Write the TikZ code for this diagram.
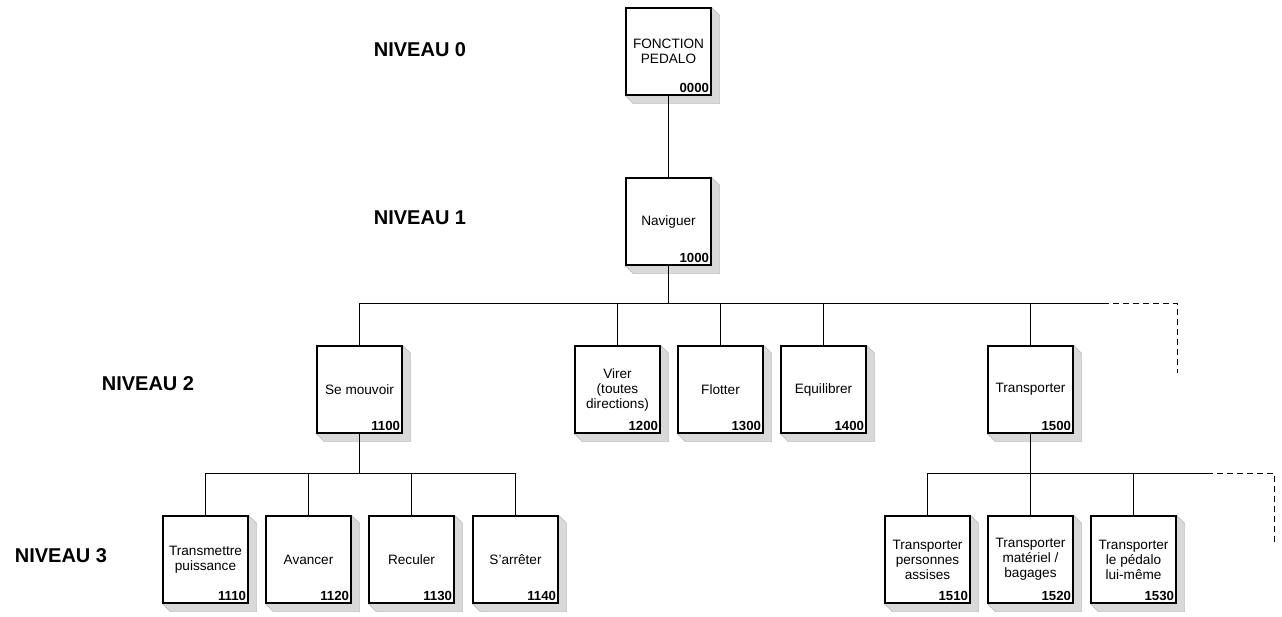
\documentclass[tikz,border=0pt]{standalone}
\usepackage{fontspec}
\setmainfont{Liberation Sans}
\usepackage{tikz}
\usetikzlibrary{backgrounds}

\begin{document}
\begin{tikzpicture}[x=1pt,y=-1pt,
    fct/.style={draw, fill=white, line width=1.4pt, minimum width=85pt, minimum height=87pt,
      align=center, inner sep=1pt, font=\fontsize{13.6}{15}\selectfont},
    code/.style={anchor=south east, inner sep=2.5pt, font=\fontsize{13.2}{14}\selectfont\bfseries},
    niveau/.style={font=\fontsize{20}{22}\selectfont\bfseries},
    shade3d/.style={fill=gray!30, draw=gray!70, line width=0.4pt},
    lien/.style={line width=1pt}]

        \useasboundingbox (0,0) rectangle (1282,616);

        % niveaux
        \node[niveau] (niv0) at (420,50)  {NIVEAU 0};
        \node[niveau] (niv1) at (420,218) {NIVEAU 1};
        \node[niveau] (niv2) at (148,384) {NIVEAU 2};
        \node[niveau] (niv3) at (61,556)  {NIVEAU 3};

        \begin{scope}[every node/.style={fct}]
          \node (n0000) at (668.5,51.5)   {FONCTION\\PEDALO};
          \node (n1000) at (668.5,221.5)  {Naviguer};
          \node (n1100) at (359.5,389.5)  {Se mouvoir};
          \node (n1200) at (617.5,389.5)  {Virer\\(toutes\\directions)};
          \node (n1300) at (720.5,389.5)  {Flotter};
          \node (n1400) at (823.5,389.5)  {Equilibrer};
          \node (n1500) at (1030.5,389.5) {Transporter};
          \node (n1110) at (205.5,559.5)  {Transmettre\\puissance};
          \node (n1120) at (308.5,559.5)  {Avancer};
          \node (n1130) at (411.5,559.5)  {Reculer};
          \node (n1140) at (515.5,559.5)  {S'arr\^eter};
          \node (n1510) at (927.5,559.5)  {Transporter\\personnes\\assises};
          \node (n1520) at (1030.5,559.5) {Transporter\\mat\'eriel /\\bagages};
          \node (n1530) at (1133.5,559.5) {Transporter\\le p\'edalo\\lui-m\^eme};
        \end{scope}

        % numeros
        \foreach \n in {0000,1000,1100,1200,1300,1400,1500,1110,1120,1130,1140,1510,1520,1530}
          \node[code] at (n\n.south east) {\n};

        % ombres
        \begin{scope}[on background layer]
          \foreach \n in {0000,1000,1100,1200,1300,1400,1500,1110,1120,1130,1140,1510,1520,1530}
            \path[shade3d] (n\n.south west) -- ++(8,8) -- ([shift={(8,8)}]n\n.south east)
              -- ([shift={(8,8)}]n\n.north east) -- (n\n.north east) -- (n\n.south east) -- cycle;
        \end{scope}

        % points du bus
        \coordinate (bus1) at (668.5,303.5);
        \coordinate (fin1) at (1103,303.5);
        \coordinate (dsh1) at (1177.5,373);
        \coordinate (bus2) at (359.5,473.5);
        \coordinate (bus3) at (1030.5,473.5);
        \coordinate (fin3) at (1207,473.5);
        \coordinate (dsh3) at (1274.5,542);

        \begin{scope}[every path/.style={lien}]
          \draw (n0000.south) -- (n1000.north);
          \draw (n1000.south) -- (bus1);
          \draw (n1100.north) |- (fin1);
          \draw (n1200.north) -- (n1200.north |- bus1);
          \draw (n1300.north) -- (n1300.north |- bus1);
          \draw (n1400.north) -- (n1400.north |- bus1);
          \draw (n1500.north) -- (n1500.north |- bus1);
          \draw[dash pattern=on 6pt off 4pt] (fin1) -| (dsh1);

          \draw (n1100.south) -- (bus2);
          \draw (n1110.north) |- (bus2);
          \draw (n1140.north) |- (bus2);
          \draw (n1120.north) -- (n1120.north |- bus2);
          \draw (n1130.north) -- (n1130.north |- bus2);

          \draw (n1500.south) -- (bus3);
          \draw (n1510.north) |- (fin3);
          \draw (n1520.north) -- (n1520.north |- bus3);
          \draw (n1530.north) -- (n1530.north |- bus3);
          \draw[dash pattern=on 6pt off 4pt] (fin3) -| (dsh3);
        \end{scope}

      \end{tikzpicture}
\end{document}
